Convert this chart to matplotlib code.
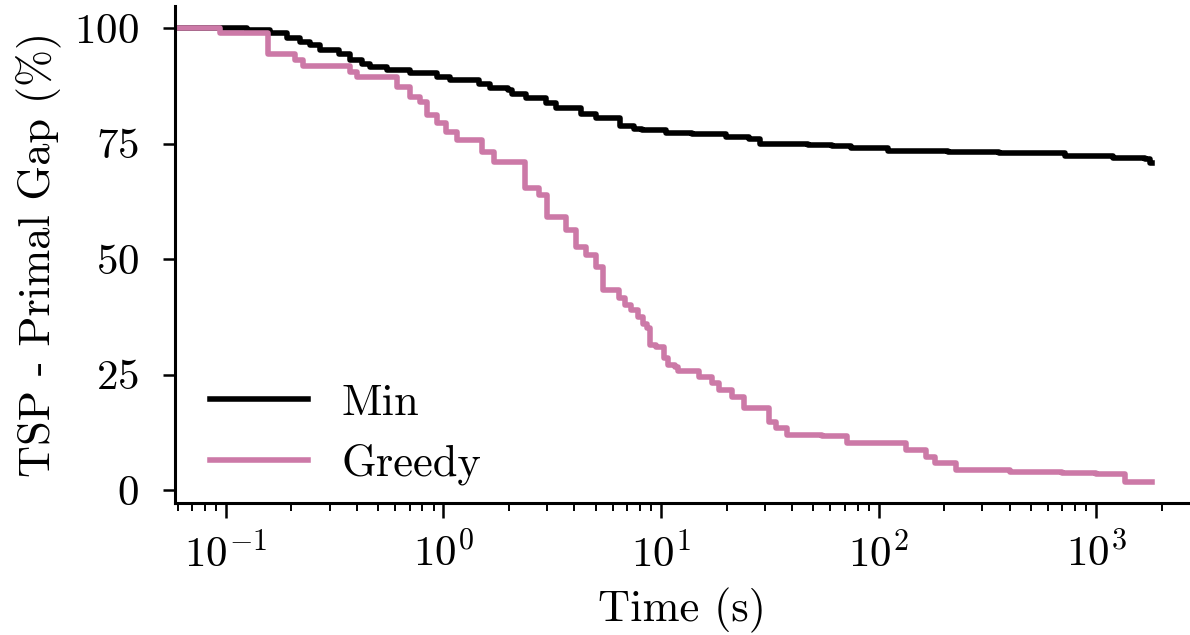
import matplotlib
matplotlib.use("Agg")
import matplotlib.pyplot as plt
from matplotlib.ticker import LogLocator

plt.rcParams["font.family"] = ["cmr10", "DejaVu Serif"]
plt.rcParams["mathtext.fontset"] = "cm"
plt.rcParams["axes.unicode_minus"] = False
plt.rcParams["axes.formatter.use_mathtext"] = True

# Min series (time in s, primal gap %)
min_t = [0.05, 0.125, 0.16, 0.19, 0.22, 0.243, 0.27, 0.33, 0.37, 0.42, 0.46,
         0.55, 0.70, 0.93, 1.07, 1.46, 1.63, 1.97, 2.07, 2.4, 2.96, 3.3, 4.3,
         5.0, 6.5, 7.5, 8.2, 10.5, 13.9, 19.9, 25.4, 28.5, 47.6, 60.8, 75,
         110, 209, 356, 720, 1200, 1670, 1770, 1800]
min_v = [100, 99.5, 98.9, 97.8, 97.0, 96.3, 95.2, 94.5, 93.1, 92.3, 91.6,
         90.9, 90.2, 89.5, 88.7, 88.0, 87.1, 86.7, 85.7, 84.8, 83.8, 82.6, 81.4,
         80.6, 78.8, 78.2, 77.9, 77.3, 77.0, 76.5, 75.9, 75.0, 74.7, 74.5, 74.0,
         73.5, 73.1, 72.9, 72.3, 71.9, 71.6, 70.7, 70.7]

# Greedy series
greedy_t = [0.05, 0.094, 0.156, 0.207, 0.225, 0.371, 0.40, 0.61, 0.70, 0.776,
            0.836, 0.93, 1.03, 1.15, 1.51, 1.71, 2.36, 2.76, 3.0, 3.66, 4.07,
            4.52, 5.0, 5.4, 6.4, 6.8, 7.3, 7.8, 8.3, 8.6, 8.9, 9.5, 10.3, 10.8,
            11.6, 12.0, 14.9, 17.1, 18.5, 21.2, 24.0, 31.3, 33.6, 37.8, 55,
            71.3, 134, 166, 182, 228, 400, 700, 1000, 1358, 1800]
greedy_v = [100, 98.9, 94.5, 93.0, 91.9, 90.5, 89.5, 87.3, 85.1, 84.0,
            81.2, 79.4, 77.6, 75.8, 73.2, 71.1, 65.3, 63.9, 59.2, 56.3, 52.7,
            50.9, 48.3, 43.3, 41.5, 40.0, 39.0, 37.5, 36.0, 35.0, 31.4, 31.0, 28.5, 27.1,
            26.7, 25.8, 24.5, 23.1, 21.6, 20.2, 17.7, 14.8, 13.4, 11.9, 11.6,
            10.2, 8.7, 7.2, 5.8, 4.3, 4.0, 3.7, 3.4, 1.8, 1.8]

fig = plt.figure(figsize=(11.9, 6.35), dpi=100)
ax = fig.add_axes([0.147, 0.208, 0.853, 0.7826])

ax.plot(min_t, min_v, drawstyle="steps-post", color="black", lw=4.0, label="Min")
ax.plot(greedy_t, greedy_v, drawstyle="steps-post", color="#CC79A7", lw=4.0, label="Greedy")

ax.set_xscale("log")
ax.set_xlim(0.0583, 2700)
ax.set_ylim(-2.8, 104.8)
ax.set_yticks([0, 25, 50, 75, 100])
ax.xaxis.set_major_locator(LogLocator(base=10, numticks=20))
ax.xaxis.set_minor_locator(LogLocator(base=10, subs=range(2, 10), numticks=50))

for s in ["top", "right"]:
    ax.spines[s].set_visible(False)
for s in ["left", "bottom"]:
    ax.spines[s].set_linewidth(2.2)

ax.tick_params(axis="y", which="major", length=9, width=1.8, labelsize=31, pad=17)
ax.tick_params(axis="x", which="major", length=11, width=1.8, labelsize=31, pad=10)
ax.tick_params(axis="x", which="minor", length=6, width=1.4)

ax.set_xlabel("Time (s)", fontsize=32, labelpad=9)
ax.set_ylabel("TSP - Primal Gap (%)", fontsize=32, labelpad=9)

ax.legend(loc="lower left", frameon=False, fontsize=32, handlelength=2.2,
          handletextpad=0.75, labelspacing=0.45, borderaxespad=0.0,
          bbox_to_anchor=(0.017, 0.0))

fig.savefig("out.png", dpi=100)
